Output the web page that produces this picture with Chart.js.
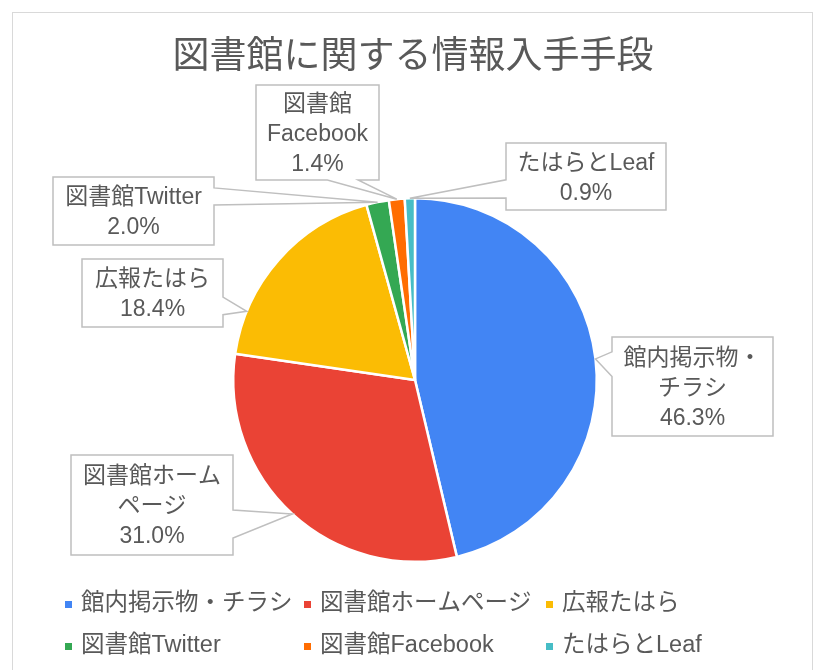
<!DOCTYPE html>
<html lang="ja">
<head>
<meta charset="utf-8">
<script src="https://cdn.jsdelivr.net/npm/chart.js@4"></script>
<style>
  html, body { margin: 0; padding: 0; background: #fff; }
  #wrap { width: 822px; height: 670px; }
</style>
</head>
<body>
<div id="wrap"><canvas id="sourceChart" width="822" height="670"></canvas></div>
<script>
const chartTitle = '図書館に関する情報入手手段';
const categories = ['館内掲示物・チラシ', '図書館ホームページ', '広報たはら', '図書館Twitter', '図書館Facebook', 'たはらとLeaf'];
const shares = [46.3, 31.0, 18.4, 2.0, 1.4, 0.9];
const sliceColors = ['#4285F4', '#EA4335', '#FBBC04', '#34A853', '#FF6D01', '#46BDC6'];
// how each category name is wrapped inside its callout
const labelLines = [['館内掲示物・', 'チラシ'], ['図書館ホーム', 'ページ'], ['広報たはら'], ['図書館Twitter'], ['図書館', 'Facebook'], ['たはらとLeaf']];

// callout boxes: [x, y, w, h], which side the pointer leaves from, and where along the slice it points
const callouts = [
    { box: [612, 337, 161, 99], side: 'left', base: [0.15, 0.40], at: 0.5 },
    { box: [71, 455, 162, 100], side: 'right', base: [0.55, 0.83], at: 0.5 },
    { box: [82, 259, 141, 68], side: 'right', base: [0.56, 0.82], at: 0.21 },
    { box: [53, 177, 161, 68], side: 'right', base: [0.16, 0.41], at: 0.5 },
    { box: [256, 85, 123, 95], side: 'bottom', base: [0.58, 0.83], at: 0.5 },
    { box: [506, 143, 160, 67], side: 'left', base: [0.55, 0.82], at: 0.5 }
];

const textColor = '#595959';
const fontFamily = '"Liberation Sans", "Noto Sans CJK JP", sans-serif';

function calloutPath(ctx, x, y, w, h, side, b0, b1, tx, ty) {
    ctx.beginPath();
    ctx.moveTo(x, y);
    ctx.lineTo(x + w, y);
    if (side === 'right') {
        ctx.lineTo(x + w, y + h * b0);
        ctx.lineTo(tx, ty);
        ctx.lineTo(x + w, y + h * b1);
    }
    ctx.lineTo(x + w, y + h);
    if (side === 'bottom') {
        ctx.lineTo(x + w * b1, y + h);
        ctx.lineTo(tx, ty);
        ctx.lineTo(x + w * b0, y + h);
    }
    ctx.lineTo(x, y + h);
    if (side === 'left') {
        ctx.lineTo(x, y + h * b1);
        ctx.lineTo(tx, ty);
        ctx.lineTo(x, y + h * b0);
    }
    ctx.closePath();
}

const frameAndTitle = {
    id: 'frameAndTitle',
    beforeDraw(chart) {
        const ctx = chart.ctx;
        ctx.save();
        ctx.fillStyle = '#fff';
        ctx.fillRect(0, 0, chart.width, chart.height);
        ctx.strokeStyle = '#d9d9d9';
        ctx.lineWidth = 1;
        ctx.strokeRect(12.5, 12.5, 800, 700);
        ctx.fillStyle = textColor;
        ctx.font = '37px ' + fontFamily;
        ctx.textAlign = 'center';
        ctx.textBaseline = 'middle';
        ctx.fillText(chartTitle, 413, 58);
        ctx.restore();
    }
};

const calloutLabels = {
    id: 'calloutLabels',
    afterDatasetsDraw(chart) {
        const ctx = chart.ctx;
        const arcs = chart.getDatasetMeta(0).data;
        ctx.save();
        callouts.forEach((c, i) => {
            const arc = arcs[i];
            const p = arc.getProps(['x', 'y', 'startAngle', 'endAngle', 'outerRadius'], true);
            const a = p.startAngle + c.at * (p.endAngle - p.startAngle);
            const tx = p.x + p.outerRadius * Math.cos(a);
            const ty = p.y + p.outerRadius * Math.sin(a);
            const [x, y, w, h] = c.box;
            calloutPath(ctx, x, y, w, h, c.side, c.base[0], c.base[1], tx, ty);
            ctx.fillStyle = '#fff';
            ctx.fill();
            ctx.strokeStyle = '#bfbfbf';
            ctx.lineWidth = 1.5;
            ctx.stroke();

            const lines = labelLines[i].concat([shares[i].toFixed(1) + '%']);
            const lh = 30;
            ctx.fillStyle = textColor;
            ctx.font = '23px ' + fontFamily;
            ctx.textAlign = 'center';
            ctx.textBaseline = 'middle';
            const top = y + h / 2 - (lines.length - 1) * lh / 2 + 2;
            lines.forEach((t, k) => ctx.fillText(t, x + w / 2, top + k * lh));
        });
        ctx.restore();
    }
};

// legend laid out in three columns like the spreadsheet's
const legendCols = [65, 304, 546];
const legendRows = [604, 646];
const gridLegend = {
    id: 'gridLegend',
    afterDraw(chart) {
        const ctx = chart.ctx;
        ctx.save();
        ctx.font = '23.5px ' + fontFamily;
        ctx.textBaseline = 'middle';
        ctx.textAlign = 'left';
        categories.forEach((name, i) => {
            const cx = legendCols[i % 3];
            const cy = legendRows[Math.floor(i / 3)];
            ctx.fillStyle = sliceColors[i];
            ctx.fillRect(cx, cy - 3, 7, 7);
            ctx.fillStyle = textColor;
            ctx.fillText(name, cx + 16, cy);
        });
        ctx.restore();
    }
};

const ctx = document.getElementById('sourceChart').getContext('2d');
new Chart(ctx, {
    type: 'pie',
    data: {
        labels: categories,
        datasets: [{
            data: shares,
            backgroundColor: sliceColors,
            borderColor: '#ffffff',
            borderWidth: 2.5
        }]
    },
    options: {
        responsive: false,
        animation: false,
        layout: { padding: { left: 232, right: 224, top: 197, bottom: 107 } },
        plugins: {
            legend: { display: false },
            title: { display: false },
            tooltip: { enabled: false }
        }
    },
    plugins: [frameAndTitle, calloutLabels, gridLegend]
});
</script>
</body>
</html>
